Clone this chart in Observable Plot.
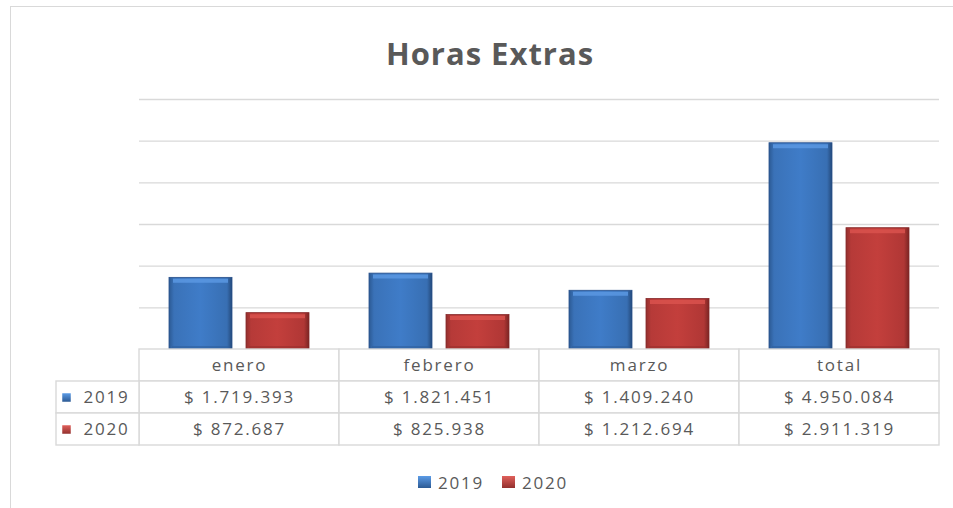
<!DOCTYPE html>
<html><head><meta charset="utf-8">
<script src="https://cdn.jsdelivr.net/npm/d3@7"></script>
<script src="https://cdn.jsdelivr.net/npm/@observablehq/plot@0.6"></script>
<style>
body{margin:0;background:#fff;font-family:"Open Sans",sans-serif;}
#wrap{position:relative;width:953px;height:508px;overflow:hidden;background:#fff;}
#frame{position:absolute;left:10px;top:6px;width:1000px;height:600px;border:1.5px solid #d9d9d9;box-sizing:border-box;}
#title{position:absolute;top:32px;left:0;width:980px;text-align:center;font-size:31px;font-weight:bold;color:#595959;letter-spacing:1px;line-height:normal;}
#chart{position:absolute;left:0;top:0;}
#table{position:absolute;left:0;top:348px;}
#legend{position:absolute;top:470px;left:0;width:986px;text-align:center;font-size:17px;color:#595959;letter-spacing:1.8px;}
#legend .item{display:inline-flex;align-items:center;margin:0 9px;}
#legend .sw{display:inline-block;width:13px;height:12px;margin-right:7px;}
</style>
</head><body>
<svg width="0" height="0" style="position:absolute">
  <defs>
    <linearGradient id="gBlue" x1="0" y1="0" x2="1" y2="0">
      <stop offset="0" stop-color="#2c5a94"/>
      <stop offset="0.08" stop-color="#3a72b8"/>
      <stop offset="0.5" stop-color="#3f7cc8"/>
      <stop offset="0.92" stop-color="#386fb3"/>
      <stop offset="1" stop-color="#24497a"/>
    </linearGradient>
    <linearGradient id="gRed" x1="0" y1="0" x2="1" y2="0">
      <stop offset="0" stop-color="#93302e"/>
      <stop offset="0.08" stop-color="#b63a38"/>
      <stop offset="0.5" stop-color="#c33f3c"/>
      <stop offset="0.92" stop-color="#b03735"/>
      <stop offset="1" stop-color="#7a2523"/>
    </linearGradient>
    <linearGradient id="gBlueSw" x1="0" y1="0" x2="0" y2="1">
      <stop offset="0" stop-color="#5b9be6"/>
      <stop offset="1" stop-color="#2c5a94"/>
    </linearGradient>
    <linearGradient id="gRedSw" x1="0" y1="0" x2="0" y2="1">
      <stop offset="0" stop-color="#e0605b"/>
      <stop offset="1" stop-color="#93302e"/>
    </linearGradient>
  </defs>
</svg>
<div id="wrap">
  <div id="frame"></div>
  <div id="title">Horas Extras</div>
  <div id="chart"></div>
  <div id="table"></div>
  <div id="legend"></div>
</div>
<script>
const categories = ["enero", "febrero", "marzo", "total"];
const years = ["2019", "2020"];
const values2019 = [1719393, 1821451, 1409240, 4950084];
const values2020 = [872687, 825938, 1212694, 2911319];
const gridValues = [1000000, 2000000, 3000000, 4000000, 5000000, 6000000];

const seriesColors = {"2019": "url(#gBlue)", "2020": "url(#gRed)"};
const swatchColors = {"2019": "url(#gBlueSw)", "2020": "url(#gRedSw)"};
const topColors = {"2019": "#5a98e2", "2020": "#d9524e"};
const bottomColors = {"2019": "#2f5f9c", "2020": "#9a2f2d"};
const edgeColors = {"2019": "#28508a", "2020": "#86292a"};

const fmt = v => "$ " + d3.format(",")(v).replace(/,/g, ".");

const data = [];
categories.forEach((c, i) => {
  data.push({category: c, year: "2019", value: values2019[i]});
  data.push({category: c, year: "2020", value: values2020[i]});
});

const barMarks = years.flatMap(yr => {
  const d = data.filter(e => e.year === yr);
  return [
    Plot.barY(d, {fx: "category", x: "year", y: "value", fill: seriesColors[yr], stroke: edgeColors[yr], strokeWidth: 0.8, inset: 0}),
    Plot.tickY(d, {fx: "category", x: "year", y: "value", stroke: topColors[yr], strokeWidth: 4, strokeOpacity: 0.85, dy: 3, insetLeft: 4, insetRight: 4}),
    Plot.tickY(d, {fx: "category", x: "year", y: 0, stroke: bottomColors[yr], strokeWidth: 3, strokeOpacity: 0.6, dy: -2, insetLeft: 3, insetRight: 3})
  ];
});

const chart = Plot.plot({
  width: 953, height: 350,
  marginTop: 99, marginBottom: 1, marginLeft: 138, marginRight: 13,
  style: {background: "transparent"},
  fx: {domain: categories, padding: 0, axis: null, label: null},
  x: {domain: years, paddingInner: 0.18, paddingOuter: 0.38, axis: null},
  y: {domain: [0, 6000000], axis: null},
  marks: [
    Plot.gridY(gridValues, {stroke: "#d9d9d9", strokeOpacity: 1, strokeWidth: 1.4}),
    ...barMarks
  ]
});
document.getElementById("chart").appendChild(chart);

const rows = ["header", ...years];
const cells = [];
categories.forEach((c, i) => {
  cells.push({category: c, row: "header", label: c});
  cells.push({category: c, row: "2019", label: fmt(values2019[i])});
  cells.push({category: c, row: "2020", label: fmt(values2020[i])});
});

const first = () => categories[0];
const table = Plot.plot({
  width: 953, height: 98,
  marginTop: 1, marginBottom: 1, marginLeft: 138, marginRight: 13,
  style: {background: "transparent", fontFamily: "Open Sans"},
  fx: {domain: categories, padding: 0, axis: null, label: null},
  y: {domain: rows, padding: 0, axis: null},
  marks: [
    Plot.cell(cells, {fx: "category", y: "row", fill: "white", stroke: "#d9d9d9", strokeWidth: 1.4, inset: 0}),
    Plot.cell(years, {fx: first, y: d => d, fill: "white", stroke: "#d9d9d9", strokeWidth: 1.4, inset: 0, insetRight: 117, dx: -83}),
    Plot.text(cells, {fx: "category", y: "row", text: "label", fill: "#595959", fontSize: 17}),
    Plot.dot(years, {fx: first, y: d => d, frameAnchor: "left", dx: -73, symbol: "square", r: 4.8, fill: d => swatchColors[d], stroke: "none"}),
    Plot.text(years, {fx: first, y: d => d, text: d => d, frameAnchor: "left", dx: -56, textAnchor: "start", fill: "#595959", fontSize: 17})
  ]
});
table.querySelectorAll("text").forEach(t => t.style.letterSpacing = "1.8px");
document.getElementById("table").appendChild(table);

const legend = document.getElementById("legend");
years.forEach(yr => {
  const item = document.createElement("span");
  item.className = "item";
  const sw = document.createElement("span");
  sw.className = "sw";
  sw.style.background = yr === "2019" ? "linear-gradient(#5b9be6,#2c5a94)" : "linear-gradient(#e0605b,#93302e)";
  item.appendChild(sw);
  item.appendChild(document.createTextNode(yr));
  legend.appendChild(item);
});
</script>
</body></html>
